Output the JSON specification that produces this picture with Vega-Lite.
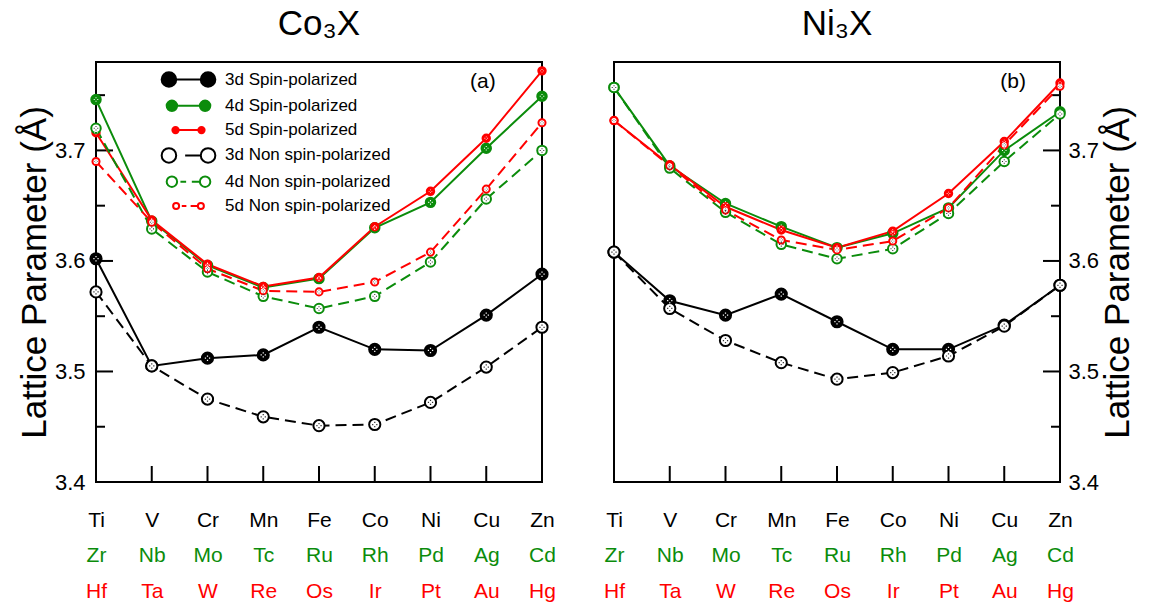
{
  "$schema": "https://vega.github.io/schema/vega-lite/v6.json",
  "padding": {"left": 16, "top": 6, "right": 2, "bottom": 0},
  "config": {
    "font": "Liberation Sans",
    "view": {"stroke": "black", "strokeWidth": 2},
    "axis": {"grid": false, "domain": false, "ticks": false, "labelFont": "Liberation Sans", "titleFont": "Liberation Sans", "labelColor": "black", "titleColor": "black", "titleFontWeight": "normal", "labelFlush": false, "labelOverlap": false, "labelBound": false}
  },
  "datasets": {
    "co": [
      {"s": "3d Spin-polarized", "i": 0, "v": 3.602}, {"s": "3d Spin-polarized", "i": 1, "v": 3.505}, {"s": "3d Spin-polarized", "i": 2, "v": 3.512}, {"s": "3d Spin-polarized", "i": 3, "v": 3.515}, {"s": "3d Spin-polarized", "i": 4, "v": 3.540}, {"s": "3d Spin-polarized", "i": 5, "v": 3.520}, {"s": "3d Spin-polarized", "i": 6, "v": 3.519}, {"s": "3d Spin-polarized", "i": 7, "v": 3.551}, {"s": "3d Spin-polarized", "i": 8, "v": 3.588},
      {"s": "4d Spin-polarized", "i": 0, "v": 3.746}, {"s": "4d Spin-polarized", "i": 1, "v": 3.636}, {"s": "4d Spin-polarized", "i": 2, "v": 3.596}, {"s": "4d Spin-polarized", "i": 3, "v": 3.576}, {"s": "4d Spin-polarized", "i": 4, "v": 3.584}, {"s": "4d Spin-polarized", "i": 5, "v": 3.630}, {"s": "4d Spin-polarized", "i": 6, "v": 3.653}, {"s": "4d Spin-polarized", "i": 7, "v": 3.702}, {"s": "4d Spin-polarized", "i": 8, "v": 3.749},
      {"s": "5d Spin-polarized", "i": 0, "v": 3.716}, {"s": "5d Spin-polarized", "i": 1, "v": 3.637}, {"s": "5d Spin-polarized", "i": 2, "v": 3.597}, {"s": "5d Spin-polarized", "i": 3, "v": 3.577}, {"s": "5d Spin-polarized", "i": 4, "v": 3.585}, {"s": "5d Spin-polarized", "i": 5, "v": 3.631}, {"s": "5d Spin-polarized", "i": 6, "v": 3.663}, {"s": "5d Spin-polarized", "i": 7, "v": 3.711}, {"s": "5d Spin-polarized", "i": 8, "v": 3.772},
      {"s": "3d Non spin-polarized", "i": 0, "v": 3.572}, {"s": "3d Non spin-polarized", "i": 1, "v": 3.505}, {"s": "3d Non spin-polarized", "i": 2, "v": 3.475}, {"s": "3d Non spin-polarized", "i": 3, "v": 3.459}, {"s": "3d Non spin-polarized", "i": 4, "v": 3.451}, {"s": "3d Non spin-polarized", "i": 5, "v": 3.452}, {"s": "3d Non spin-polarized", "i": 6, "v": 3.472}, {"s": "3d Non spin-polarized", "i": 7, "v": 3.504}, {"s": "3d Non spin-polarized", "i": 8, "v": 3.540},
      {"s": "4d Non spin-polarized", "i": 0, "v": 3.720}, {"s": "4d Non spin-polarized", "i": 1, "v": 3.629}, {"s": "4d Non spin-polarized", "i": 2, "v": 3.590}, {"s": "4d Non spin-polarized", "i": 3, "v": 3.568}, {"s": "4d Non spin-polarized", "i": 4, "v": 3.557}, {"s": "4d Non spin-polarized", "i": 5, "v": 3.568}, {"s": "4d Non spin-polarized", "i": 6, "v": 3.599}, {"s": "4d Non spin-polarized", "i": 7, "v": 3.656}, {"s": "4d Non spin-polarized", "i": 8, "v": 3.700},
      {"s": "5d Non spin-polarized", "i": 0, "v": 3.690}, {"s": "5d Non spin-polarized", "i": 1, "v": 3.635}, {"s": "5d Non spin-polarized", "i": 2, "v": 3.593}, {"s": "5d Non spin-polarized", "i": 3, "v": 3.573}, {"s": "5d Non spin-polarized", "i": 4, "v": 3.572}, {"s": "5d Non spin-polarized", "i": 5, "v": 3.581}, {"s": "5d Non spin-polarized", "i": 6, "v": 3.608}, {"s": "5d Non spin-polarized", "i": 7, "v": 3.665}, {"s": "5d Non spin-polarized", "i": 8, "v": 3.725}
    ],
    "ni": [
      {"s": "3d Spin-polarized", "i": 0, "v": 3.608}, {"s": "3d Spin-polarized", "i": 1, "v": 3.564}, {"s": "3d Spin-polarized", "i": 2, "v": 3.551}, {"s": "3d Spin-polarized", "i": 3, "v": 3.570}, {"s": "3d Spin-polarized", "i": 4, "v": 3.545}, {"s": "3d Spin-polarized", "i": 5, "v": 3.520}, {"s": "3d Spin-polarized", "i": 6, "v": 3.520}, {"s": "3d Spin-polarized", "i": 7, "v": 3.542}, {"s": "3d Spin-polarized", "i": 8, "v": 3.578},
      {"s": "4d Spin-polarized", "i": 0, "v": 3.757}, {"s": "4d Spin-polarized", "i": 1, "v": 3.686}, {"s": "4d Spin-polarized", "i": 2, "v": 3.652}, {"s": "4d Spin-polarized", "i": 3, "v": 3.631}, {"s": "4d Spin-polarized", "i": 4, "v": 3.612}, {"s": "4d Spin-polarized", "i": 5, "v": 3.625}, {"s": "4d Spin-polarized", "i": 6, "v": 3.648}, {"s": "4d Spin-polarized", "i": 7, "v": 3.700}, {"s": "4d Spin-polarized", "i": 8, "v": 3.735},
      {"s": "5d Spin-polarized", "i": 0, "v": 3.727}, {"s": "5d Spin-polarized", "i": 1, "v": 3.687}, {"s": "5d Spin-polarized", "i": 2, "v": 3.649}, {"s": "5d Spin-polarized", "i": 3, "v": 3.628}, {"s": "5d Spin-polarized", "i": 4, "v": 3.612}, {"s": "5d Spin-polarized", "i": 5, "v": 3.627}, {"s": "5d Spin-polarized", "i": 6, "v": 3.661}, {"s": "5d Spin-polarized", "i": 7, "v": 3.708}, {"s": "5d Spin-polarized", "i": 8, "v": 3.761},
      {"s": "3d Non spin-polarized", "i": 0, "v": 3.608}, {"s": "3d Non spin-polarized", "i": 1, "v": 3.557}, {"s": "3d Non spin-polarized", "i": 2, "v": 3.528}, {"s": "3d Non spin-polarized", "i": 3, "v": 3.508}, {"s": "3d Non spin-polarized", "i": 4, "v": 3.493}, {"s": "3d Non spin-polarized", "i": 5, "v": 3.499}, {"s": "3d Non spin-polarized", "i": 6, "v": 3.514}, {"s": "3d Non spin-polarized", "i": 7, "v": 3.541}, {"s": "3d Non spin-polarized", "i": 8, "v": 3.578},
      {"s": "4d Non spin-polarized", "i": 0, "v": 3.757}, {"s": "4d Non spin-polarized", "i": 1, "v": 3.684}, {"s": "4d Non spin-polarized", "i": 2, "v": 3.644}, {"s": "4d Non spin-polarized", "i": 3, "v": 3.615}, {"s": "4d Non spin-polarized", "i": 4, "v": 3.602}, {"s": "4d Non spin-polarized", "i": 5, "v": 3.611}, {"s": "4d Non spin-polarized", "i": 6, "v": 3.643}, {"s": "4d Non spin-polarized", "i": 7, "v": 3.690}, {"s": "4d Non spin-polarized", "i": 8, "v": 3.733},
      {"s": "5d Non spin-polarized", "i": 0, "v": 3.727}, {"s": "5d Non spin-polarized", "i": 1, "v": 3.686}, {"s": "5d Non spin-polarized", "i": 2, "v": 3.646}, {"s": "5d Non spin-polarized", "i": 3, "v": 3.619}, {"s": "5d Non spin-polarized", "i": 4, "v": 3.610}, {"s": "5d Non spin-polarized", "i": 5, "v": 3.618}, {"s": "5d Non spin-polarized", "i": 6, "v": 3.648}, {"s": "5d Non spin-polarized", "i": 7, "v": 3.705}, {"s": "5d Non spin-polarized", "i": 8, "v": 3.758}
    ]
  },
  "resolve": {"scale": {"color": "independent", "stroke": "independent", "fill": "independent", "size": "independent"}},
  "spacing": 45,
  "hconcat": [
    {
      "width": 446, "height": 420,
      "title": {"text": "Co₃X", "fontSize": 35, "fontWeight": "normal", "font": "Liberation Sans", "color": "black", "offset": 20, "anchor": "middle"},
      "resolve": {"axis": {"x": "independent", "y": "independent"}},
      "layer": [
        {
          "data": {"values": [{"i": 1}, {"i": 2}, {"i": 3}, {"i": 4}, {"i": 5}, {"i": 6}, {"i": 7}]},
          "mark": {"type": "tick", "orient": "vertical", "size": 16, "thickness": 2, "yOffset": -8, "color": "black", "opacity": 1},
          "encoding": {
            "x": {"field": "i", "type": "quantitative", "scale": {"domain": [0, 8], "nice": false}, "axis": null},
            "y": {"datum": 3.4, "type": "quantitative", "scale": {"domain": [3.4, 3.78], "nice": false, "zero": false}, "axis": null}
          }
        },
        {
          "data": {"values": [{"v": 3.5}, {"v": 3.6}, {"v": 3.7}]},
          "mark": {"type": "tick", "orient": "horizontal", "size": 17, "thickness": 2, "xOffset": 8.5, "color": "black", "opacity": 1},
          "encoding": {
            "y": {"field": "v", "type": "quantitative", "scale": {"domain": [3.4, 3.78], "nice": false, "zero": false}, "axis": null},
            "x": {"datum": 0, "type": "quantitative", "scale": {"domain": [0, 8], "nice": false}, "axis": null}
          }
        },
        {
          "data": {"values": [{"v": 3.45}, {"v": 3.55}, {"v": 3.65}, {"v": 3.75}]},
          "mark": {"type": "tick", "orient": "horizontal", "size": 9, "thickness": 2, "xOffset": 4.5, "color": "black", "opacity": 1},
          "encoding": {
            "y": {"field": "v", "type": "quantitative", "scale": {"domain": [3.4, 3.78], "nice": false, "zero": false}, "axis": null},
            "x": {"datum": 0, "type": "quantitative", "scale": {"domain": [0, 8], "nice": false}, "axis": null}
          }
        },
        {
          "data": {"name": "co"},
          "transform": [{"filter": "indexof(datum.s,'Non')<0"}],
          "mark": {"type": "line", "strokeWidth": 2},
          "encoding": {
            "x": {"field": "i", "type": "quantitative", "scale": {"domain": [0, 8], "nice": false}, "axis": {"orient": "bottom", "title": null, "values": [0,1,2,3,4,5,6,7,8], "labelExpr": "['Ti','V','Cr','Mn','Fe','Co','Ni','Cu','Zn'][datum.value]", "labelPadding": 44, "labelBaseline": "alphabetic", "labelFontSize": 21, "labelColor": "black"}},
            "y": {"field": "v", "type": "quantitative", "scale": {"domain": [3.4, 3.78], "nice": false, "zero": false}, "axis": {"orient": "left", "values": [3.4,3.5,3.6,3.7], "format": ".1f", "labelPadding": 11, "labelFontSize": 22, "title": "Lattice Parameter (Å)", "titleFontSize": 35, "titlePadding": 2}},
            "color": {"field": "s", "type": "nominal", "scale": {"domain": ["3d Spin-polarized","4d Spin-polarized","5d Spin-polarized","3d Non spin-polarized","4d Non spin-polarized","5d Non spin-polarized"], "range": ["black","#0b8c0b","#ff0000","black","#0b8c0b","#ff0000"]},
              "legend": {"title": null, "orient": "none", "legendX": 84, "legendY": 9, "padding": 0, "labelFontSize": 17, "labelFont": "Liberation Sans", "labelColor": "black", "labelLimit": 400, "symbolSize": 100, "symbolStrokeWidth": 2, "labelOffset": 28, "rowPadding": 5.3, "symbolType": "circle",
                "encode": {"symbols": {"update": {
                  "shape": {"signal": "datum.value==='3d Spin-polarized' ? 'M-4.8,0a1.3,1.3 0 1,0 2.6,0a1.3,1.3 0 1,0 -2.6,0M-2.2,0L2.2,0M2.2,0a1.3,1.3 0 1,0 2.6,0a1.3,1.3 0 1,0 -2.6,0' : datum.value==='4d Spin-polarized' ? 'M-4.6,0a1.1,1.1 0 1,0 2.2,0a1.1,1.1 0 1,0 -2.2,0M-2.4,0L2.4,0M2.4,0a1.1,1.1 0 1,0 2.2,0a1.1,1.1 0 1,0 -2.2,0' : datum.value==='5d Spin-polarized' ? 'M-4.35,0a0.85,0.85 0 1,0 1.7,0a0.85,0.85 0 1,0 -1.7,0M-2.65,0L2.65,0M2.65,0a0.85,0.85 0 1,0 1.7,0a0.85,0.85 0 1,0 -1.7,0' : datum.value==='3d Non spin-polarized' ? 'M-4.8,0a1.3,1.3 0 1,0 2.6,0a1.3,1.3 0 1,0 -2.6,0M-0.6,0L2.2,0M2.2,0a1.3,1.3 0 1,0 2.6,0a1.3,1.3 0 1,0 -2.6,0' : datum.value==='4d Non spin-polarized' ? 'M-4.6,0a1.1,1.1 0 1,0 2.2,0a1.1,1.1 0 1,0 -2.2,0M-1.7,0L-0.5,0M0.7,0L2.4,0M2.4,0a1.1,1.1 0 1,0 2.2,0a1.1,1.1 0 1,0 -2.2,0' : 'M-4.35,0a0.85,0.85 0 1,0 1.7,0a0.85,0.85 0 1,0 -1.7,0M-1.9,0L-0.6,0M0.6,0L2.65,0M2.65,0a0.85,0.85 0 1,0 1.7,0a0.85,0.85 0 1,0 -1.7,0'"},
                  "fill": {"signal": "indexof(datum.value,'Non')>=0 ? 'white' : (substring(datum.value,0,1)==='3' ? 'black' : substring(datum.value,0,1)==='4' ? '#0b8c0b' : '#ff0000')"},
                  "opacity": {"value": 1}
                }}}
              }}
          }
        },
        {
          "data": {"name": "co"},
          "transform": [{"filter": "indexof(datum.s,'Non')>=0"}],
          "mark": {"type": "line", "strokeWidth": 2, "strokeDash": [11, 6]},
          "encoding": {
            "x": {"field": "i", "type": "quantitative", "scale": {"domain": [0, 8], "nice": false}, "axis": null},
            "y": {"field": "v", "type": "quantitative", "scale": {"domain": [3.4, 3.78], "nice": false, "zero": false}, "axis": null},
            "color": {"field": "s", "type": "nominal", "scale": {"domain": ["3d Spin-polarized","4d Spin-polarized","5d Spin-polarized","3d Non spin-polarized","4d Non spin-polarized","5d Non spin-polarized"], "range": ["black","#0b8c0b","#ff0000","black","#0b8c0b","#ff0000"]}, "legend": null}
          }
        },
        {
          "data": {"name": "co"},
          "mark": {"type": "point", "shape": "circle", "filled": true, "strokeWidth": 2, "opacity": 1},
          "encoding": {
            "x": {"field": "i", "type": "quantitative", "scale": {"domain": [0, 8], "nice": false}, "axis": {"orient": "bottom", "title": null, "values": [0,1,2,3,4,5,6,7,8], "labelExpr": "['Zr','Nb','Mo','Tc','Ru','Rh','Pd','Ag','Cd'][datum.value]", "labelPadding": 79, "labelBaseline": "alphabetic", "labelFontSize": 21, "labelColor": "#0b8c0b"}},
            "y": {"field": "v", "type": "quantitative", "scale": {"domain": [3.4, 3.78], "nice": false, "zero": false}, "axis": null},
            "stroke": {"field": "s", "type": "nominal", "scale": {"domain": ["3d Spin-polarized","4d Spin-polarized","5d Spin-polarized","3d Non spin-polarized","4d Non spin-polarized","5d Non spin-polarized"], "range": ["black","#0b8c0b","#ff0000","black","#0b8c0b","#ff0000"]}, "legend": null},
            "fill": {"field": "s", "type": "nominal", "scale": {"domain": ["3d Spin-polarized","4d Spin-polarized","5d Spin-polarized","3d Non spin-polarized","4d Non spin-polarized","5d Non spin-polarized"], "range": ["black","#0b8c0b","#ff0000","white","white","white"]}, "legend": null},
            "size": {"field": "s", "type": "nominal", "scale": {"type": "ordinal", "domain": ["3d Spin-polarized","4d Spin-polarized","5d Spin-polarized","3d Non spin-polarized","4d Non spin-polarized","5d Non spin-polarized"], "range": [125, 90, 55, 125, 90, 50]}, "legend": null}
          }
        },
        {
          "data": {"name": "co"},
          "mark": {"type": "point", "shape": "M-0.48,-0.11h0.22v0.22h-0.22zM0.26,-0.11h0.22v0.22h-0.22zM-0.11,-0.48h0.22v0.22h-0.22zM-0.11,0.26h0.22v0.22h-0.22z", "filled": true, "strokeWidth": 0, "opacity": 1},
          "encoding": {
            "x": {"field": "i", "type": "quantitative", "scale": {"domain": [0, 8], "nice": false}, "axis": null},
            "y": {"field": "v", "type": "quantitative", "scale": {"domain": [3.4, 3.78], "nice": false, "zero": false}, "axis": null},
            "fill": {"condition": {"test": "indexof(datum.s,'Non')>=0", "value": "#333333"}, "value": "white"},
            "size": {"field": "s", "type": "nominal", "scale": {"type": "ordinal", "domain": ["3d Spin-polarized","4d Spin-polarized","5d Spin-polarized","3d Non spin-polarized","4d Non spin-polarized","5d Non spin-polarized"], "range": [125, 90, 55, 125, 90, 50]}, "legend": null}
          }
        },
        {
          "data": {"values": [{"t": "(a)", "i": 6.94, "v": 3.762}]},
          "mark": {"type": "text", "fontSize": 21, "color": "black", "font": "Liberation Sans"},
          "encoding": {
            "x": {"field": "i", "type": "quantitative", "scale": {"domain": [0, 8], "nice": false}, "axis": {"orient": "bottom", "title": null, "values": [0,1,2,3,4,5,6,7,8], "labelExpr": "['Hf','Ta','W','Re','Os','Ir','Pt','Au','Hg'][datum.value]", "labelPadding": 115, "labelBaseline": "alphabetic", "labelFontSize": 21, "labelColor": "#ff0000"}},
            "y": {"field": "v", "type": "quantitative", "scale": {"domain": [3.4, 3.78], "nice": false, "zero": false}, "axis": null},
            "text": {"field": "t"}
          }
        }
      ]
    },
    {
      "width": 446, "height": 420,
      "title": {"text": "Ni₃X", "fontSize": 35, "fontWeight": "normal", "font": "Liberation Sans", "color": "black", "offset": 20, "anchor": "middle"},
      "resolve": {"axis": {"x": "independent", "y": "independent"}},
      "layer": [
        {
          "data": {"values": [{"i": 1}, {"i": 2}, {"i": 3}, {"i": 4}, {"i": 5}, {"i": 6}, {"i": 7}]},
          "mark": {"type": "tick", "orient": "vertical", "size": 16, "thickness": 2, "yOffset": -8, "color": "black", "opacity": 1},
          "encoding": {
            "x": {"field": "i", "type": "quantitative", "scale": {"domain": [0, 8], "nice": false}, "axis": null},
            "y": {"datum": 3.4, "type": "quantitative", "scale": {"domain": [3.4, 3.78], "nice": false, "zero": false}, "axis": null}
          }
        },
        {
          "data": {"values": [{"v": 3.5}, {"v": 3.6}, {"v": 3.7}]},
          "mark": {"type": "tick", "orient": "horizontal", "size": 17, "thickness": 2, "xOffset": -8.5, "color": "black", "opacity": 1},
          "encoding": {
            "y": {"field": "v", "type": "quantitative", "scale": {"domain": [3.4, 3.78], "nice": false, "zero": false}, "axis": null},
            "x": {"datum": 8, "type": "quantitative", "scale": {"domain": [0, 8], "nice": false}, "axis": null}
          }
        },
        {
          "data": {"values": [{"v": 3.45}, {"v": 3.55}, {"v": 3.65}, {"v": 3.75}]},
          "mark": {"type": "tick", "orient": "horizontal", "size": 9, "thickness": 2, "xOffset": -4.5, "color": "black", "opacity": 1},
          "encoding": {
            "y": {"field": "v", "type": "quantitative", "scale": {"domain": [3.4, 3.78], "nice": false, "zero": false}, "axis": null},
            "x": {"datum": 8, "type": "quantitative", "scale": {"domain": [0, 8], "nice": false}, "axis": null}
          }
        },
        {
          "data": {"name": "ni"},
          "transform": [{"filter": "indexof(datum.s,'Non')<0"}],
          "mark": {"type": "line", "strokeWidth": 2},
          "encoding": {
            "x": {"field": "i", "type": "quantitative", "scale": {"domain": [0, 8], "nice": false}, "axis": {"orient": "bottom", "title": null, "values": [0,1,2,3,4,5,6,7,8], "labelExpr": "['Ti','V','Cr','Mn','Fe','Co','Ni','Cu','Zn'][datum.value]", "labelPadding": 44, "labelBaseline": "alphabetic", "labelFontSize": 21, "labelColor": "black"}},
            "y": {"field": "v", "type": "quantitative", "scale": {"domain": [3.4, 3.78], "nice": false, "zero": false}, "axis": {"orient": "right", "values": [3.4,3.5,3.6,3.7], "format": ".1f", "labelPadding": 8, "labelFontSize": 22, "title": "Lattice Parameter (Å)", "titleFontSize": 35, "titlePadding": 2, "titleAngle": 270, "titleBaseline": "top"}},
            "color": {"field": "s", "type": "nominal", "scale": {"domain": ["3d Spin-polarized","4d Spin-polarized","5d Spin-polarized","3d Non spin-polarized","4d Non spin-polarized","5d Non spin-polarized"], "range": ["black","#0b8c0b","#ff0000","black","#0b8c0b","#ff0000"]}, "legend": null}
          }
        },
        {
          "data": {"name": "ni"},
          "transform": [{"filter": "indexof(datum.s,'Non')>=0"}],
          "mark": {"type": "line", "strokeWidth": 2, "strokeDash": [11, 6]},
          "encoding": {
            "x": {"field": "i", "type": "quantitative", "scale": {"domain": [0, 8], "nice": false}, "axis": null},
            "y": {"field": "v", "type": "quantitative", "scale": {"domain": [3.4, 3.78], "nice": false, "zero": false}, "axis": null},
            "color": {"field": "s", "type": "nominal", "scale": {"domain": ["3d Spin-polarized","4d Spin-polarized","5d Spin-polarized","3d Non spin-polarized","4d Non spin-polarized","5d Non spin-polarized"], "range": ["black","#0b8c0b","#ff0000","black","#0b8c0b","#ff0000"]}, "legend": null}
          }
        },
        {
          "data": {"name": "ni"},
          "mark": {"type": "point", "shape": "circle", "filled": true, "strokeWidth": 2, "opacity": 1},
          "encoding": {
            "x": {"field": "i", "type": "quantitative", "scale": {"domain": [0, 8], "nice": false}, "axis": {"orient": "bottom", "title": null, "values": [0,1,2,3,4,5,6,7,8], "labelExpr": "['Zr','Nb','Mo','Tc','Ru','Rh','Pd','Ag','Cd'][datum.value]", "labelPadding": 79, "labelBaseline": "alphabetic", "labelFontSize": 21, "labelColor": "#0b8c0b"}},
            "y": {"field": "v", "type": "quantitative", "scale": {"domain": [3.4, 3.78], "nice": false, "zero": false}, "axis": null},
            "stroke": {"field": "s", "type": "nominal", "scale": {"domain": ["3d Spin-polarized","4d Spin-polarized","5d Spin-polarized","3d Non spin-polarized","4d Non spin-polarized","5d Non spin-polarized"], "range": ["black","#0b8c0b","#ff0000","black","#0b8c0b","#ff0000"]}, "legend": null},
            "fill": {"field": "s", "type": "nominal", "scale": {"domain": ["3d Spin-polarized","4d Spin-polarized","5d Spin-polarized","3d Non spin-polarized","4d Non spin-polarized","5d Non spin-polarized"], "range": ["black","#0b8c0b","#ff0000","white","white","white"]}, "legend": null},
            "size": {"field": "s", "type": "nominal", "scale": {"type": "ordinal", "domain": ["3d Spin-polarized","4d Spin-polarized","5d Spin-polarized","3d Non spin-polarized","4d Non spin-polarized","5d Non spin-polarized"], "range": [125, 90, 55, 125, 90, 50]}, "legend": null}
          }
        },
        {
          "data": {"name": "ni"},
          "mark": {"type": "point", "shape": "M-0.48,-0.11h0.22v0.22h-0.22zM0.26,-0.11h0.22v0.22h-0.22zM-0.11,-0.48h0.22v0.22h-0.22zM-0.11,0.26h0.22v0.22h-0.22z", "filled": true, "strokeWidth": 0, "opacity": 1},
          "encoding": {
            "x": {"field": "i", "type": "quantitative", "scale": {"domain": [0, 8], "nice": false}, "axis": null},
            "y": {"field": "v", "type": "quantitative", "scale": {"domain": [3.4, 3.78], "nice": false, "zero": false}, "axis": null},
            "fill": {"condition": {"test": "indexof(datum.s,'Non')>=0", "value": "#333333"}, "value": "white"},
            "size": {"field": "s", "type": "nominal", "scale": {"type": "ordinal", "domain": ["3d Spin-polarized","4d Spin-polarized","5d Spin-polarized","3d Non spin-polarized","4d Non spin-polarized","5d Non spin-polarized"], "range": [125, 90, 55, 125, 90, 50]}, "legend": null}
          }
        },
        {
          "data": {"values": [{"t": "(b)", "i": 7.16, "v": 3.762}]},
          "mark": {"type": "text", "fontSize": 21, "color": "black", "font": "Liberation Sans"},
          "encoding": {
            "x": {"field": "i", "type": "quantitative", "scale": {"domain": [0, 8], "nice": false}, "axis": {"orient": "bottom", "title": null, "values": [0,1,2,3,4,5,6,7,8], "labelExpr": "['Hf','Ta','W','Re','Os','Ir','Pt','Au','Hg'][datum.value]", "labelPadding": 115, "labelBaseline": "alphabetic", "labelFontSize": 21, "labelColor": "#ff0000"}},
            "y": {"field": "v", "type": "quantitative", "scale": {"domain": [3.4, 3.78], "nice": false, "zero": false}, "axis": null},
            "text": {"field": "t"}
          }
        }
      ]
    }
  ]
}
